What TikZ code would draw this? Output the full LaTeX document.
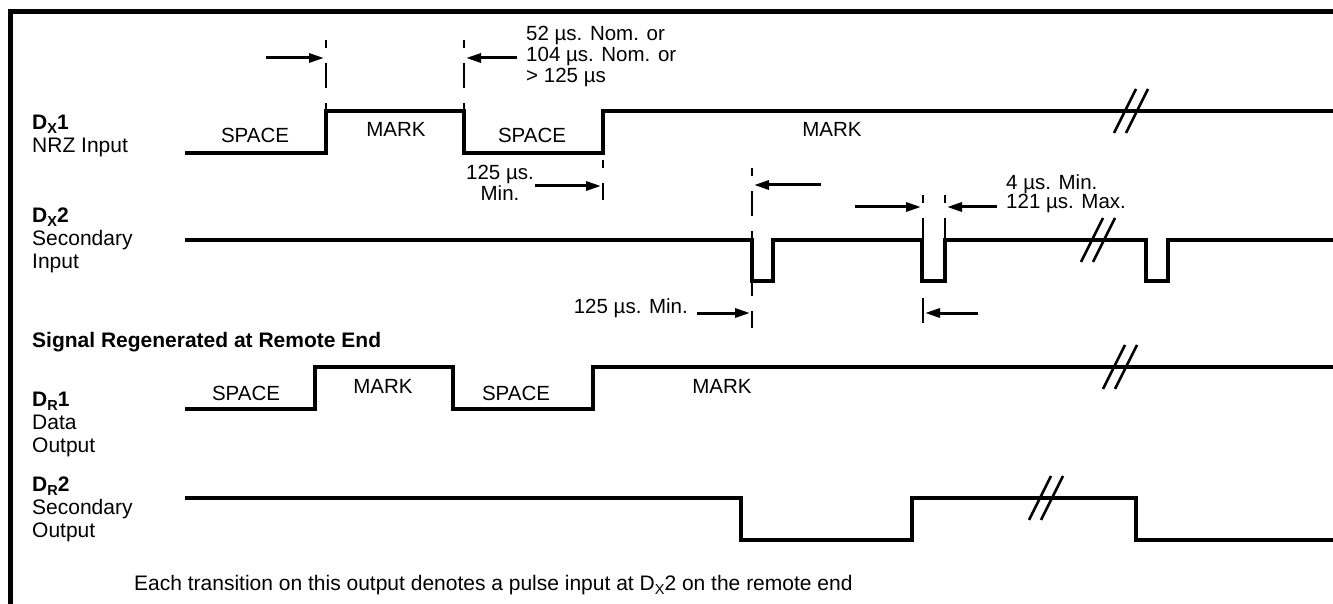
\documentclass[tikz,border=0pt]{standalone}
\usepackage{fontspec}
\setmainfont{Liberation Sans}
\usetikzlibrary{arrows.meta}
\newcommand{\lowidx}[1]{\raisebox{-4pt}{\fontsize{14.5}{14.5}\selectfont #1}}

\begin{document}
\begin{tikzpicture}[x=1pt, y=-1pt,
  wave/.style = {line width=3.5pt, line join=miter},
  guide/.style = {line width=2pt, dash pattern=on 25pt off 15pt, dash phase=17pt},
  dim/.style = {line width=3pt, -{Triangle[length=15pt,width=9pt]}},
  txt/.style = {font=\fontsize{21}{23}\selectfont, inner sep=0pt, anchor=base west},
  lbl/.style = {txt, align=left},
  lvl/.style = {font=\fontsize{20.5}{23}\selectfont, inner sep=0pt, anchor=base},
  brk/.pic = {\draw[line width=2.5pt] (-16,22) -- (6,-22);
              \draw[line width=2.5pt] (-4,22) -- (18,-22);}]
\useasboundingbox (0,0) rectangle (1333,604);

% frame
\draw[line width=5pt] (10,604) -- (10,12) -- (1333,12);

% signal names (anchored on the last line)
\node[lbl] (dx1) at (32,153) {\textbf{D\lowidx{X}1}\\NRZ Input};
\node[lbl] (dx2) at (32,268) {\textbf{D\lowidx{X}2}\\Secondary\\Input};
\node[txt] (regen) at (32,347) {\textbf{Signal Regenerated at Remote End}};
\node[lbl] (dr1) at (32,452) {\textbf{D\lowidx{R}1}\\Data\\Output};
\node[lbl] (dr2) at (32,537) {\textbf{D\lowidx{R}2}\\Secondary\\Output};
\node[txt] (note) at (134,590) {Each transition on this output denotes a pulse input at D\lowidx{X}2 on the remote end};

% waveforms
\draw[wave] (185,153) -| (326,111) -| (464,153) -| (603,111) -- (1333,111);
\draw[wave] (185,240) -| (752,281) -| (773,240) -| (922,281) -| (945,240) -| (1146,281) -| (1168,240) -- (1333,240);
\draw[wave] (185,409) -| (315,367) -| (453,409) -| (593,367) -- (1333,367);
\draw[wave] (185,498) -| (741,540) -| (912,498) -| (1136,540) -- (1333,540);
\pic at (1130,111) {brk};
\pic at (1097,240) {brk};
\pic at (1119,367) {brk};
\pic at (1045,498) {brk};

% level names
\node[lvl] (sp1) at (255,143) {SPACE};
\node[lvl] (mk1) at (396,137) {MARK};
\node[lvl] (sp2) at (532,143) {SPACE};
\node[lvl] (mk2) at (832,137) {MARK};
\node[lvl] (sp3) at (246,400) {SPACE};
\node[lvl] (mk3) at (383,393) {MARK};
\node[lvl] (sp4) at (516,400) {SPACE};
\node[lvl] (mk4) at (722,393) {MARK};

% timing guides
\draw[guide] (326,40) -- (326,111);
\draw[guide] (464,40) -- (464,111);
\draw[guide] (603,160) -- (603,200);
\draw[guide] (752,168) -- (752,328);
\draw[guide] (923,195) -- (923,328);
\draw[guide] (945,195) -- (945,240);

% timing texts (anchored on the last line)
\node[lbl, font=\fontsize{20.5}{21}\selectfont] (nom) at (526,83) {52 µs. Nom. or\\104 µs. Nom. or\\> 125 µs};
\node[lvl, align=center, font=\fontsize{20.5}{21}\selectfont] (min1) at (500,201) {125 µs.\\Min.};
\node[lbl, font=\fontsize{20.5}{20}\selectfont] (width) at (1006,209) {4 µs. Min.\\121 µs. Max.};
\node[txt, font=\fontsize{20.5}{23}\selectfont, anchor=base east] (min2) at (688,313) {125 µs. Min.};

% timing arrows
\coordinate (t1) at (266,58);  \coordinate (h1) at (324,58);
\coordinate (t2) at (517,58);  \coordinate (h2) at (466,58);
\coordinate (t3) at (535,186); \coordinate (h3) at (601,186);
\coordinate (t4) at (821,185); \coordinate (h4) at (754,185);
\coordinate (t5) at (855,207); \coordinate (h5) at (921,207);
\coordinate (t6) at (997,207); \coordinate (h6) at (947,207);
\coordinate (t7) at (697,313); \coordinate (h7) at (750,313);
\coordinate (t8) at (978,313); \coordinate (h8) at (925,313);
\foreach \i in {1,...,8}
  \draw[dim] (t\i) -- (h\i);
\end{tikzpicture}
\end{document}
